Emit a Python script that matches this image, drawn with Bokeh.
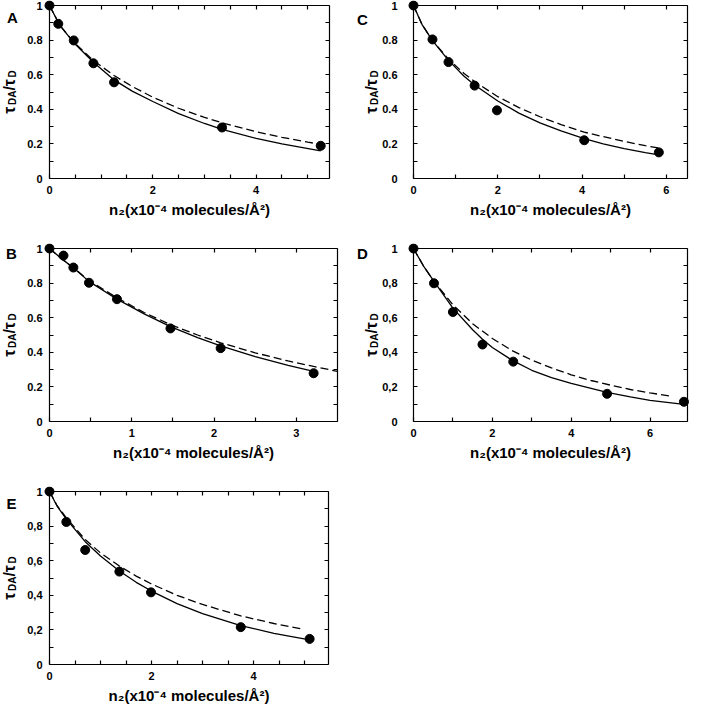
import math
from bokeh.plotting import figure
from bokeh.models import Range1d, LinearAxis, FixedTicker, CustomJSTickFormatter, Label
from bokeh.layouts import column, row
from bokeh.embed import file_html
from bokeh.resources import INLINE

FONT = "Liberation Sans"
X_LABEL = "n₂(x10⁻⁴ molecules/Å²)"
Y_TICKS = [0, 0.2, 0.4, 0.6, 0.8, 1.0]
Y_MINOR = [0.1, 0.3, 0.5, 0.7, 0.9]

# ---- Panel A ----
A_n2 = [0.0, 0.17, 0.47, 0.85, 1.25, 3.34, 5.25]
A_ratio = [1.0, 0.894, 0.798, 0.666, 0.556, 0.295, 0.189]
A_fit_n2 = [0.0, 0.2, 0.47, 0.85, 1.25, 1.6, 2.0, 2.5, 3.0, 3.34, 4.0, 4.5, 5.25]
A_fit = [1.0, 0.885, 0.785, 0.672, 0.57, 0.505, 0.445, 0.375, 0.318, 0.284, 0.232, 0.2, 0.16]
A_alt_n2 = [0.0, 0.2, 0.47, 0.85, 1.25, 1.6, 2.0, 2.5, 3.0, 3.34, 4.0, 4.5, 5.0, 5.4]
A_alt = [1.0, 0.886, 0.788, 0.682, 0.595, 0.532, 0.47, 0.406, 0.353, 0.322, 0.27, 0.238, 0.21, 0.19]
A_xmax = 5.42
A_xticks = [0, 2, 4]
A_xminor = [0.5, 1, 1.5, 2.5, 3, 3.5, 4.5, 5]

# ---- Panel B ----
B_n2 = [0.0, 0.17, 0.29, 0.48, 0.82, 1.47, 2.08, 3.21]
B_ratio = [1.0, 0.959, 0.89, 0.802, 0.707, 0.538, 0.424, 0.279]
B_fit_n2 = [0.0, 0.15, 0.3, 0.48, 0.82, 1.15, 1.47, 1.8, 2.08, 2.5, 2.9, 3.21]
B_fit = [1.0, 0.94, 0.885, 0.81, 0.707, 0.622, 0.548, 0.485, 0.437, 0.375, 0.324, 0.29]
B_alt_n2 = [0.0, 0.15, 0.3, 0.48, 0.82, 1.15, 1.47, 1.8, 2.08, 2.5, 2.9, 3.21, 3.5]
B_alt = [1.0, 0.94, 0.885, 0.815, 0.715, 0.63, 0.56, 0.5, 0.455, 0.397, 0.35, 0.318, 0.29]
B_xmax = 3.5
B_xticks = [0, 1, 2, 3]
B_xminor = [0.5, 1.5, 2.5]

# ---- Panel C ----
C_n2 = [0.0, 0.45, 0.83, 1.45, 1.98, 4.05, 5.82]
C_ratio = [1.0, 0.804, 0.673, 0.537, 0.394, 0.221, 0.151]
C_fit_n2 = [0.0, 0.2, 0.45, 0.83, 1.2, 1.45, 2.0, 2.5, 3.0, 3.5, 4.05, 4.5, 5.0, 5.5, 5.82]
C_fit = [1.0, 0.891, 0.797, 0.683, 0.591, 0.54, 0.448, 0.378, 0.322, 0.275, 0.23, 0.2, 0.173, 0.149, 0.136]
C_alt_n2 = [0.0, 0.2, 0.45, 0.83, 1.2, 1.45, 2.0, 2.5, 3.0, 3.5, 4.05, 4.5, 5.0, 5.5, 5.82]
C_alt = [1.0, 0.891, 0.797, 0.69, 0.607, 0.56, 0.473, 0.41, 0.357, 0.312, 0.268, 0.242, 0.214, 0.19, 0.176]
C_xmax = 6.5
C_xticks = [0, 2, 4, 6]
C_xminor = [1, 3, 5]

# ---- Panel D ----
D_n2 = [0.0, 0.52, 1.0, 1.75, 2.53, 4.91, 6.86]
D_ratio = [1.0, 0.799, 0.633, 0.445, 0.346, 0.16, 0.114]
D_fit_n2 = [0.0, 0.25, 0.52, 1.0, 1.5, 1.75, 2.0, 2.53, 3.0, 3.5, 4.0, 4.91, 5.5, 6.0, 6.86]
D_fit = [1.0, 0.9, 0.81, 0.655, 0.53, 0.475, 0.428, 0.35, 0.296, 0.254, 0.22, 0.168, 0.142, 0.122, 0.099]
D_alt_n2 = [0.0, 0.25, 0.52, 1.0, 1.5, 2.0, 2.5, 3.0, 3.5, 4.0, 4.5, 5.0, 5.5, 6.0, 6.5]
D_alt = [1.0, 0.9, 0.81, 0.675, 0.565, 0.48, 0.41, 0.355, 0.31, 0.27, 0.237, 0.21, 0.185, 0.165, 0.148]
D_xmax = 6.95
D_xticks = [0, 2, 4, 6]
D_xminor = [1, 3, 5]

# ---- Panel E ----
E_n2 = [0.0, 0.33, 0.70, 1.37, 1.99, 3.75, 5.1]
E_ratio = [1.0, 0.824, 0.662, 0.537, 0.417, 0.216, 0.148]
E_fit_n2 = [0.0, 0.15, 0.33, 0.7, 1.0, 1.37, 1.7, 1.99, 2.5, 3.0, 3.75, 4.4, 5.1]
E_fit = [1.0, 0.915, 0.84, 0.71, 0.627, 0.54, 0.475, 0.426, 0.352, 0.294, 0.225, 0.18, 0.142]
E_alt_n2 = [0.0, 0.15, 0.33, 0.7, 1.0, 1.37, 1.7, 1.99, 2.5, 3.0, 3.75, 4.4, 4.99]
E_alt = [1.0, 0.918, 0.848, 0.722, 0.645, 0.569, 0.511, 0.467, 0.4, 0.347, 0.281, 0.237, 0.203]
E_xmax = 5.47
E_xticks = [0, 2, 4]
E_xminor = [0.5, 1, 1.5, 2.5, 3, 3.5, 4.5, 5]

SPAN_Y = 173   # px between y=0 and y=1
TOP = 5        # px from canvas top to y=1

FMT_CODE = """
if (Math.abs(tick) < 1e-9) return "0";
if (Math.abs(tick - 1) < 1e-9) return "1";
return tick.toFixed(1).replace(".", sep);
"""


def style_axis(ax, show_labels, standoff=7):
    ax.axis_line_color = "black"
    ax.axis_line_width = 1.2
    ax.major_tick_in = 4
    ax.major_tick_out = 0
    ax.minor_tick_in = 4
    ax.minor_tick_out = 0
    ax.major_tick_line_color = "black"
    ax.minor_tick_line_color = "black"
    ax.major_tick_line_width = 1.2
    ax.minor_tick_line_width = 1.2
    ax.major_label_text_font = FONT
    ax.major_label_text_font_style = "bold"
    ax.major_label_text_font_size = "11px"
    ax.major_label_text_color = "black"
    ax.major_label_standoff = standoff
    if not show_labels:
        ax.formatter = CustomJSTickFormatter(code='return "";')
        ax.major_label_standoff = 0


def make_panel(letter, pts_x, pts_y, fit_x, fit_y, alt_x, alt_y, xmax, xticks, xminor,
               sep, width, height, x0px, span_x, ystandoff, letter_dx, letter_dy, ylab_dx):
    ppu = span_x / xmax
    ppy = float(SPAN_Y)
    y0_from_bottom = height - TOP - SPAN_Y
    p = figure(x_range=Range1d(-x0px / ppu, (width - x0px) / ppu),
               y_range=Range1d(-y0_from_bottom / ppy, 1 + TOP / ppy),
               frame_width=width, frame_height=height,
               min_border_left=0, min_border_right=0, min_border_top=0, min_border_bottom=0,
               x_axis_type=None, y_axis_type=None,
               output_backend="svg", toolbar_location=None)
    p.outline_line_color = None
    p.background_fill_color = "white"
    p.border_fill_color = "white"

    bottom = LinearAxis(ticker=FixedTicker(ticks=xticks, minor_ticks=xminor),
                        bounds=(0, xmax), fixed_location=0, axis_label=X_LABEL)
    style_axis(bottom, True, 7)
    bottom.axis_label_text_font = FONT
    bottom.axis_label_text_font_style = "bold"
    bottom.axis_label_text_font_size = "15px"
    bottom.axis_label_text_color = "black"
    bottom.axis_label_standoff = 4
    p.add_layout(bottom, "below")

    top = LinearAxis(ticker=FixedTicker(ticks=xticks, minor_ticks=xminor),
                     bounds=(0, xmax), fixed_location=1.0)
    style_axis(top, False)
    p.add_layout(top, "above")

    left = LinearAxis(ticker=FixedTicker(ticks=Y_TICKS, minor_ticks=Y_MINOR),
                      bounds=(0, 1), fixed_location=0,
                      formatter=CustomJSTickFormatter(args=dict(sep=sep), code=FMT_CODE))
    style_axis(left, True, ystandoff)
    p.add_layout(left, "left")

    right = LinearAxis(ticker=FixedTicker(ticks=Y_TICKS, minor_ticks=Y_MINOR),
                       bounds=(0, 1), fixed_location=xmax)
    style_axis(right, False)
    p.add_layout(right, "right")

    p.line(alt_x, alt_y, line_color="black", line_width=1.3, line_dash="8 4")
    p.line(fit_x, fit_y, line_color="black", line_width=1.3)
    p.scatter(pts_x, pts_y, size=9, marker="circle", fill_color="black", line_color="black")

    y1s = height - TOP  # screen y (from bottom) of value 1
    # panel letter
    p.add_layout(Label(x=x0px + letter_dx, y=y1s - letter_dy, x_units="screen", y_units="screen",
                       text=letter, text_align="center", text_baseline="middle",
                       text_font=FONT, text_font_style="bold", text_font_size="15px",
                       text_color="black"))

    # y-axis label: tau_DA / tau_D, rotated
    pieces = [("τ", "16px", False, 0.0), ("DA", "10px", True, 8.8), ("/", "16px", False, 23.2),
              ("τ", "16px", False, 27.6), ("D", "10px", True, 36.4)]
    total = 43.6
    start = y0_from_bottom + SPAN_Y / 2 - total / 2
    bx = x0px + ylab_dx
    for txt, fs, sub, off in pieces:
        p.add_layout(Label(x=bx + (3 if sub else 0), y=start + off,
                           x_units="screen", y_units="screen", angle=math.pi / 2,
                           text=txt, text_align="left", text_baseline="alphabetic",
                           text_font=FONT, text_font_style="bold", text_font_size=fs,
                           text_color="black"))
    return p


LW, RW = 349, 344
H1, H3 = 243, 220

pA = make_panel("A", A_n2, A_ratio, A_fit_n2, A_fit, A_alt_n2, A_alt, A_xmax, A_xticks, A_xminor,
                ".", LW, H1, 49, 280, 7, -37, 12, -40)
pC = make_panel("C", C_n2, C_ratio, C_fit_n2, C_fit, C_alt_n2, C_alt, C_xmax, C_xticks, C_xminor,
                ".", RW, H1, 64, 274, 16, -51, 14, -42)
pB = make_panel("B", B_n2, B_ratio, B_fit_n2, B_fit, B_alt_n2, B_alt, B_xmax, B_xticks, B_xminor,
                ".", LW, H1, 49, 288, 7, -38, 5, -40)
pD = make_panel("D", D_n2, D_ratio, D_fit_n2, D_fit, D_alt_n2, D_alt, D_xmax, D_xticks, D_xminor,
                ",", RW, H1, 64, 274, 16, -51, 5, -42)
pE = make_panel("E", E_n2, E_ratio, E_fit_n2, E_fit, E_alt_n2, E_alt, E_xmax, E_xticks, E_xminor,
                ",", LW, H3, 49, 279, 7, -38, 12, -40)

layout = column(row(pA, pC), row(pB, pD), pE)

open("out.html", "w").write(file_html(layout, INLINE))
